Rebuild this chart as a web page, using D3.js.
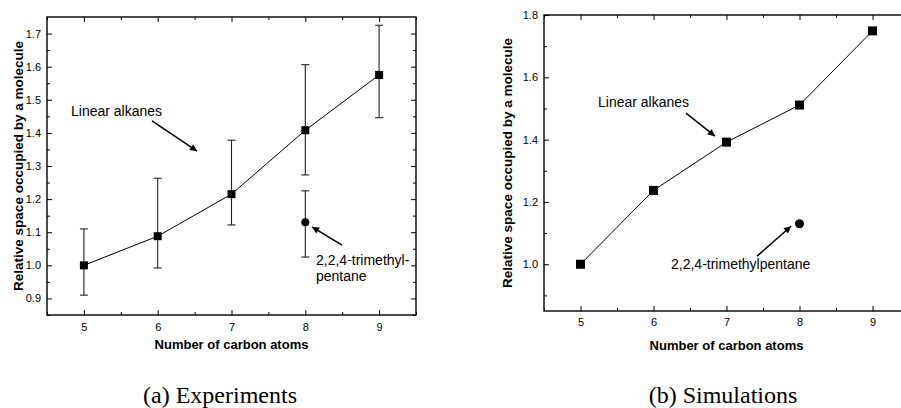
<!DOCTYPE html>
<html><head><meta charset="utf-8">
<script src="https://cdn.jsdelivr.net/npm/d3@7"></script>
<style>
html,body{margin:0;padding:0;background:#fff;}
svg{display:block;}
</style></head>
<body>
<svg id="c" width="901" height="408"></svg>
<script>
// ---------- data ----------
const carbons = [5, 6, 7, 8, 9];
const expValues = [1.000, 1.088, 1.215, 1.408, 1.575];
const expLow    = [0.910, 0.992, 1.122, 1.273, 1.446];
const expHigh   = [1.110, 1.263, 1.378, 1.606, 1.725];
const expIsoX = 8, expIsoValue = 1.130, expIsoLow = 1.025, expIsoHigh = 1.225;

const simValues = [1.000, 1.237, 1.392, 1.511, 1.749];
const simIsoX = 8, simIsoValue = 1.130;

const xTicks = [5, 6, 7, 8, 9];
const expYTicks = [0.9, 1.0, 1.1, 1.2, 1.3, 1.4, 1.5, 1.6, 1.7];
const simYTicks = [1.0, 1.2, 1.4, 1.6, 1.8];
const xTitle = "Number of carbon atoms";
const yTitle = "Relative space occupied by a molecule";
const captions = ["(a) Experiments", "(b) Simulations"];
const linearLabel = "Linear alkanes";

const svg = d3.select("#c");
const FONT = "'Liberation Sans', Arial, Helvetica, sans-serif";

const defs = svg.append("defs");
defs.append("marker").attr("id","ah").attr("viewBox","0 0 10 10")
  .attr("refX",10).attr("refY",5).attr("markerWidth",9).attr("markerHeight",7)
  .attr("markerUnits","userSpaceOnUse").attr("orient","auto")
  .append("path").attr("d","M0,0 L10,5 L0,10 z").attr("fill","#000");

function panel(o){
  const g = svg.append("g");
  const x = d3.scaleLinear().domain(o.xDom).range([o.left, o.right]);
  const y = d3.scaleLinear().domain(o.yDom).range([o.bottom, o.top]);
  const W = o.right - o.left, H = o.bottom - o.top;
  const xMinor = d3.range(o.xDom[0], o.xDom[1] + 1e-9, 0.5);

  // bottom axis
  const ax = d3.axisBottom(x).tickValues(xMinor)
    .tickFormat(d => xTicks.includes(d) ? d3.format("d")(d) : "")
    .tickSize(0).tickPadding(0);
  const gx = g.append("g").attr("transform",`translate(0,${o.bottom})`).call(ax);
  gx.select(".domain").remove();
  gx.selectAll("text").attr("font-family",FONT).attr("font-size",11).attr("fill","#000")
    .attr("dy",null).attr("y",o.xLabY);
  gx.selectAll(".tick line").attr("y2", d => xTicks.includes(d) ? -5 : -3)
    .attr("stroke","#000").attr("stroke-width",1);
  // top ticks
  const gt = g.append("g").attr("transform",`translate(0,${o.top})`)
    .call(d3.axisTop(x).tickValues(xMinor).tickFormat("").tickSize(0));
  gt.select(".domain").remove();
  gt.selectAll(".tick line").attr("y2", d => xTicks.includes(d) ? 5 : 3)
    .attr("stroke","#000").attr("stroke-width",1);

  // left axis
  const ay = d3.axisLeft(y).tickValues(o.yMinor)
    .tickFormat(d => o.yTicks.some(t => Math.abs(t-d)<1e-9) ? d3.format(".1f")(d) : "")
    .tickSize(0).tickPadding(6);
  const gy = g.append("g").attr("transform",`translate(${o.left},0)`).call(ay);
  gy.select(".domain").remove();
  gy.selectAll("text").attr("font-family",FONT).attr("font-size",11).attr("fill","#000");
  gy.selectAll(".tick line").attr("x2", d => o.yTicks.some(t => Math.abs(t-d)<1e-9) ? 5 : 3)
    .attr("stroke","#000").attr("stroke-width",1);
  if (o.rightTicks){
    const gr = g.append("g").attr("transform",`translate(${o.right},0)`)
      .call(d3.axisRight(y).tickValues(o.yMinor).tickFormat("").tickSize(0));
    gr.select(".domain").remove();
    gr.selectAll(".tick line").attr("x2", d => o.yTicks.some(t => Math.abs(t-d)<1e-9) ? -5 : -3)
      .attr("stroke","#000").attr("stroke-width",1);
  }

  // frame
  g.append("rect").attr("x",o.left).attr("y",o.top).attr("width",W).attr("height",H)
    .attr("fill","none").attr("stroke","#000").attr("stroke-width",1.4);

  // titles
  g.append("text").attr("x",(o.left+o.right)/2 + o.xTitleShift).attr("y",o.xTitleY)
    .attr("text-anchor","middle").attr("font-family",FONT).attr("font-weight","bold")
    .attr("font-size",13).text(xTitle);
  g.append("text").attr("transform",`translate(${o.yTitleX},${(o.top+o.bottom)/2}) rotate(-90)`)
    .attr("text-anchor","middle").attr("font-family",FONT).attr("font-weight","bold")
    .attr("font-size",13.5).text(yTitle);
  g.append("text").attr("x",o.capX).attr("y",403).attr("text-anchor","middle")
    .attr("font-family","'Liberation Serif','Times New Roman',serif").attr("font-size",24)
    .text(o.caption);

  // error bars
  if (o.low){
    const eb = g.append("g").attr("stroke","#222").attr("stroke-width",1.1);
    const bars = carbons.map((c,i)=>({x:c,lo:o.low[i],hi:o.high[i]}));
    if (o.isoLow!==undefined) bars.push({x:o.isoX,lo:o.isoLow,hi:o.isoHigh});
    bars.forEach(b=>{
      eb.append("line").attr("x1",x(b.x)).attr("x2",x(b.x)).attr("y1",y(b.lo)).attr("y2",y(b.hi));
      [b.lo,b.hi].forEach(v=>eb.append("line").attr("x1",x(b.x)-4).attr("x2",x(b.x)+4)
        .attr("y1",y(v)).attr("y2",y(v)));
    });
  }

  // line
  const line = d3.line().x((d,i)=>x(carbons[i])).y(d=>y(d));
  g.append("path").datum(o.values).attr("d",line).attr("fill","none")
    .attr("stroke","#000").attr("stroke-width",1);
  const s = o.sq;
  g.selectAll("rect.pt").data(o.values).enter().append("rect").attr("class","pt")
    .attr("x",(d,i)=>x(carbons[i])-s/2).attr("y",d=>y(d)-s/2)
    .attr("width",s).attr("height",s).attr("fill","#000");
  g.append("circle").attr("cx",x(o.isoX)).attr("cy",y(o.isoValue)).attr("r",o.cr).attr("fill","#000");

  // annotations (data units)
  o.texts.forEach(t=>g.append("text").attr("x",x(t[0])).attr("y",y(t[1]))
    .attr("font-family",FONT).attr("font-size",14).text(t[2]));
  o.arrows.forEach(a=>g.append("line").attr("x1",x(a[0])).attr("y1",y(a[1]))
    .attr("x2",x(a[2])).attr("y2",y(a[3])).attr("stroke","#000").attr("stroke-width",1.5)
    .attr("marker-end","url(#ah)"));
}

panel({
  xDom:[4.5,9.5], yDom:[0.85,1.75], left:47, right:416, top:17, bottom:315,
  yTicks:expYTicks, yMinor:d3.range(17,35).map(k=>k*0.05),
  rightTicks:true, xLabY:16, xTitleY:349, xTitleShift:0, yTitleX:23,
  capX:220, caption:captions[0],
  values:expValues, low:expLow, high:expHigh,
  isoX:expIsoX, isoValue:expIsoValue, isoLow:expIsoLow, isoHigh:expIsoHigh,
  sq:8, cr:4,
  texts:[[4.825,1.451,linearLabel],[8.145,1.001,"2,2,4-trimethyl-"],[8.145,0.953,"pentane"]],
  arrows:[[5.923,1.436,6.533,1.345],[8.497,1.061,8.091,1.116]]
});

panel({
  xDom:[4.5,9.5], yDom:[0.85,1.80], left:544, right:909, top:15, bottom:311,
  yTicks:simYTicks, yMinor:d3.range(9,19).map(k=>k*0.1),
  rightTicks:false, xLabY:15, xTitleY:350, xTitleShift:0, yTitleX:512,
  capX:723, caption:captions[1],
  values:simValues, isoX:simIsoX, isoValue:simIsoValue,
  sq:9, cr:4.5,
  texts:[[5.240,1.505,linearLabel],[6.240,0.986,"2,2,4-trimethylpentane"]],
  arrows:[[6.445,1.485,6.842,1.411],[7.418,1.026,7.884,1.122]]
});
</script>
</body></html>
